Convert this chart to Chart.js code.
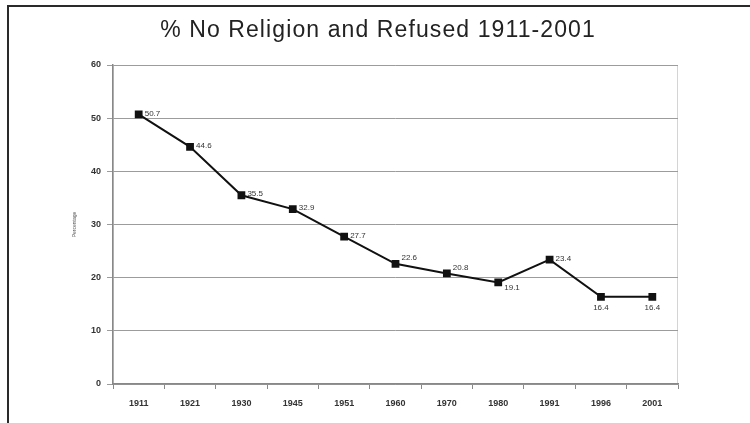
<!DOCTYPE html>
<html>
<head>
<meta charset="utf-8">
<script src="https://cdn.jsdelivr.net/npm/chart.js@4"></script>
<style>
  html, body { margin: 0; padding: 0; background: #fff; }
  #wrap { width: 750px; height: 423px; position: relative; }
</style>
</head>
<body>
<div id="wrap"><canvas id="mycanvas" width="750" height="423"></canvas></div>
<script>
// census years and share of "no religion" + "refused" answers
var years = ['1911', '1921', '1930', '1945', '1951', '1960', '1970', '1980', '1991', '1996', '2001'];
var percent = [50.7, 44.6, 35.5, 32.9, 27.7, 22.6, 20.8, 19.1, 23.4, 16.4, 16.4];
var yTicks = [0, 10, 20, 30, 40, 50, 60];
var chartTitle = '% No Religion and Refused 1911-2001';

// where each value label sits next to its marker
var labelSide = ['right', 'right', 'right', 'right', 'right', 'upright', 'upright', 'downright', 'right', 'below', 'below'];

var framePlugin = {
	id: 'frame',
	beforeDraw: function(chart) {
		var ctx = chart.ctx;
		var a = chart.chartArea;
		ctx.save();
		ctx.fillStyle = '#fff';
		ctx.fillRect(0, 0, chart.width, chart.height);
		// outer frame: top and left edges
		ctx.strokeStyle = '#2a2a2a';
		ctx.lineWidth = 2;
		ctx.beginPath();
		ctx.moveTo(8, chart.height);
		ctx.lineTo(8, 6);
		ctx.lineTo(chart.width, 6);
		ctx.stroke();
		// title
		ctx.fillStyle = '#222';
		ctx.font = '23px "Liberation Sans", Arial, sans-serif';
		ctx.letterSpacing = '1.1px';
		ctx.textAlign = 'center';
		ctx.textBaseline = 'middle';
		ctx.fillText(chartTitle, 378, 31);
		ctx.letterSpacing = '0px';
		// light border round the plot area
		ctx.strokeStyle = '#d4d4d4';
		ctx.lineWidth = 1;
		ctx.strokeRect(a.left + 0.5, a.top + 0.5, a.right - a.left - 1, a.bottom - a.top);
		ctx.restore();
	},
	afterDatasetsDraw: function(chart) {
		var ctx = chart.ctx;
		var meta = chart.getDatasetMeta(0);
		ctx.save();
		ctx.fillStyle = '#333';
		ctx.font = '8px "Liberation Sans", Arial, sans-serif';
		ctx.textBaseline = 'middle';
		meta.data.forEach(function(pt, i) {
			var txt = percent[i].toFixed(1);
			var side = labelSide[i];
			if (side == 'right') {
				ctx.textAlign = 'left';
				ctx.fillText(txt, pt.x + 6, pt.y - 1);
			} else if (side == 'upright') {
				ctx.textAlign = 'left';
				ctx.fillText(txt, pt.x + 6, pt.y - 6);
			} else if (side == 'downright') {
				ctx.textAlign = 'left';
				ctx.fillText(txt, pt.x + 6, pt.y + 5);
			} else {
				ctx.textAlign = 'center';
				ctx.fillText(txt, pt.x, pt.y + 11);
			}
		});
		ctx.restore();
	}
};

var ctx = document.getElementById('mycanvas');

var lineGraph = new Chart(ctx, {
	type: 'line',
	data: {
		labels: years,
		datasets: [{
			label: chartTitle,
			data: percent,
			borderColor: '#111',
			backgroundColor: '#111',
			borderWidth: 2,
			pointStyle: 'rect',
			pointRadius: 5.5,
			pointBorderWidth: 0,
			tension: 0,
			fill: false
		}]
	},
	options: {
		responsive: false,
		animation: false,
		layout: { padding: { left: 72, right: 72, top: 65, bottom: 0 } },
		plugins: {
			legend: { display: false },
			title: { display: false },
			tooltip: { enabled: false }
		},
		scales: {
			x: {
				offset: true,
				grid: { drawOnChartArea: false, offset: true, tickLength: 5, color: '#888', lineWidth: 1 },
				border: { color: '#888', width: 1.5 },
				ticks: {
					color: '#333',
					font: { family: '"Liberation Sans", Arial, sans-serif', size: 9, weight: 'bold' },
					padding: 9,
					maxRotation: 0
				},
				afterFit: function(scale) { scale.height = 39; }
			},
			y: {
				min: 0,
				max: 60,
				afterBuildTicks: function(scale) {
					scale.ticks = yTicks.map(function(v) { return { value: v }; });
				},
				grid: { color: '#9c9c9c', lineWidth: 1, tickLength: 6 },
				border: { color: '#888', width: 1.5 },
				ticks: {
					color: '#333',
					font: { family: '"Liberation Sans", Arial, sans-serif', size: 9, weight: 'bold' },
					padding: 6
				},
				title: {
					display: true,
					text: 'Percentage',
					color: '#555',
					font: { family: '"Liberation Sans", Arial, sans-serif', size: 5 },
					padding: 0
				},
				afterFit: function(scale) { scale.width = 41; }
			}
		}
	},
	plugins: [framePlugin]
});
</script>
</body>
</html>
